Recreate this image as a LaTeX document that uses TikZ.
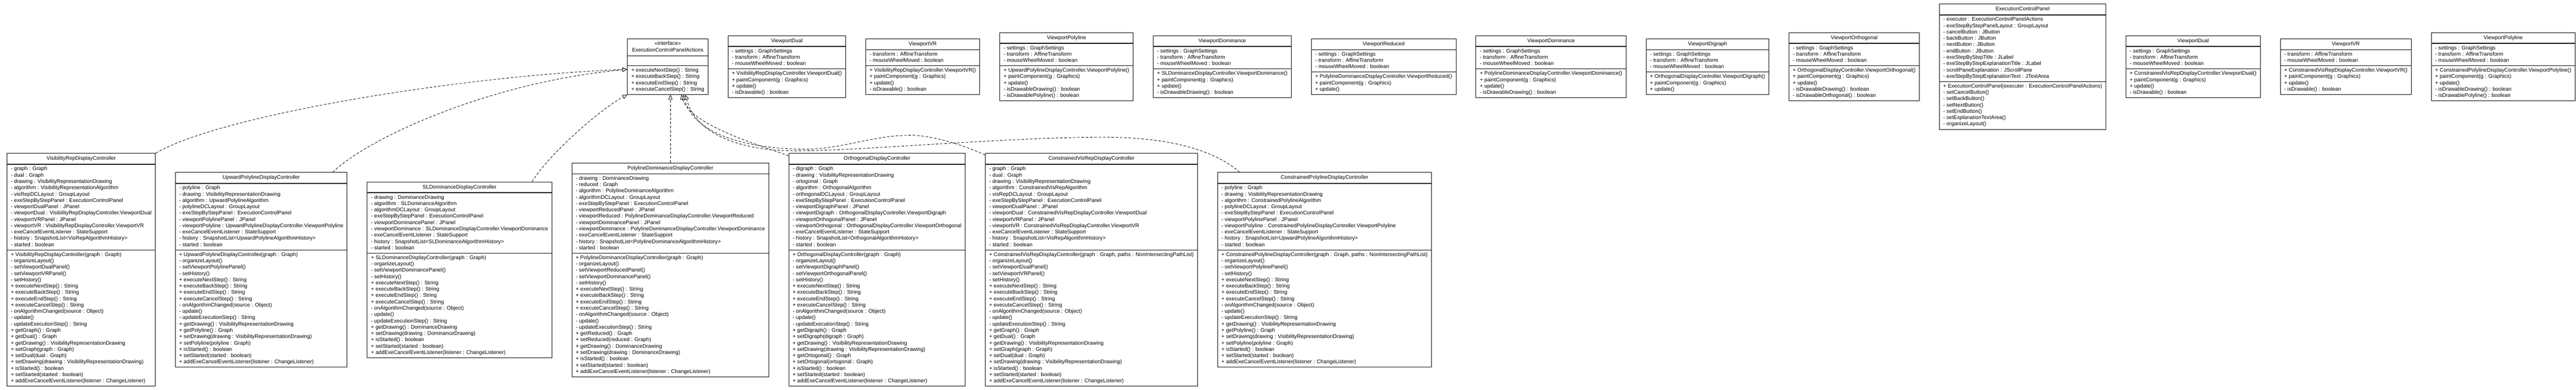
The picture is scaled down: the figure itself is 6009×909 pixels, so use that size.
\documentclass[tikz,border=0pt]{standalone}
\usepackage{fontspec}
\newfontfamily\umlf{Liberation Sans}
\usetikzlibrary{shapes.multipart,arrows.meta,calc}
\newcommand\ct[1]{\rule[-5.675pt]{0pt}{17.25pt}#1}
\tikzset{
  cls/.style={rectangle split, rectangle split parts=3, draw=black, line width=1.1pt,
    fill=white, align=left, rectangle split part align={center,left,left},
    inner xsep=9pt, inner ysep=3.5pt, anchor=west,
    font=\umlf\fontsize{12.38}{14.75}\selectfont},
  impl/.style={line width=1pt, dash pattern=on 6pt off 4pt,
    -{Triangle[length=11pt,width=10pt,fill=white,line width=1pt]}},
  tsep/.style={line width=2pt}
}
\begin{document}
\begin{tikzpicture}[x=1pt,y=-1pt]
\useasboundingbox (0,0) rectangle (6009,909);

% ---------------- bottom row ----------------
\node[cls] (vis) at (15.7,629.5) {\ct{VisibilityRepDisplayController}
\nodepart{two}
\strut- graph : Graph\\
\strut- dual : Graph\\
\strut- drawing : VisibilityRepresentationDrawing\\
\strut- algorithm : VisibilityRepresentationAlgorithm\\
\strut- visRepDCLayout : GroupLayout\\
\strut- exeStepByStepPanel : ExecutionControlPanel\\
\strut- viewportDualPanel : JPanel\\
\strut- viewportDual : VisibilityRepDisplayController.ViewportDual\\
\strut- viewportVRPanel : JPanel\\
\strut- viewportVR : VisibilityRepDisplayController.ViewportVR\\
\strut- exeCancelEventListener : StateSupport\\
\strut- history : SnapshotList<VisRepAlgorithmHistory>\\
\strut- started : boolean
\nodepart{three}
\strut+ VisibilityRepDisplayController(graph : Graph)\\
\strut- organizeLayout()\\
\strut- setViewportDualPanel()\\
\strut- setViewportVRPanel()\\
\strut- setHistory()\\
\strut+ executeNextStep() : String\\
\strut+ executeBackStep() : String\\
\strut+ executeEndStep() : String\\
\strut+ executeCancelStep() : String\\
\strut- onAlgorithmChanged(source : Object)\\
\strut- update()\\
\strut- updateExecutionStep() : String\\
\strut+ getGraph() : Graph\\
\strut+ getDual() : Graph\\
\strut+ getDrawing() : VisibilityRepresentationDrawing\\
\strut+ setGraph(graph : Graph)\\
\strut+ setDual(dual : Graph)\\
\strut+ setDrawing(drawing : VisibilityRepresentationDrawing)\\
\strut+ isStarted() : boolean\\
\strut+ setStarted(started : boolean)\\
\strut+ addExeCancelEventListener(listener : ChangeListener)};

\node[cls] (upw) at ($(vis.east)+(45.5,0)$) {\ct{UpwardPolylineDisplayController}
\nodepart{two}
\strut- polyline : Graph\\
\strut- drawing : VisibilityRepresentationDrawing\\
\strut- algorithm : UpwardPolylineAlgorithm\\
\strut- polylineDCLayout : GroupLayout\\
\strut- exeStepByStepPanel : ExecutionControlPanel\\
\strut- viewportPolylinePanel : JPanel\\
\strut- viewportPolyline : UpwardPolylineDisplayController.ViewportPolyline\\
\strut- exeCancelEventListener : StateSupport\\
\strut- history : SnapshotList<UpwardPolylineAlgorithmHistory>\\
\strut- started : boolean
\nodepart{three}
\strut+ UpwardPolylineDisplayController(graph : Graph)\\
\strut- organizeLayout()\\
\strut- setViewportPolylinePanel()\\
\strut- setHistory()\\
\strut+ executeNextStep() : String\\
\strut+ executeBackStep() : String\\
\strut+ executeEndStep() : String\\
\strut+ executeCancelStep() : String\\
\strut- onAlgorithmChanged(source : Object)\\
\strut- update()\\
\strut- updateExecutionStep() : String\\
\strut+ getDrawing() : VisibilityRepresentationDrawing\\
\strut+ getPolyline() : Graph\\
\strut+ setDrawing(drawing : VisibilityRepresentationDrawing)\\
\strut+ setPolyline(polyline : Graph)\\
\strut+ isStarted() : boolean\\
\strut+ setStarted(started : boolean)\\
\strut+ addExeCancelEventListener(listener : ChangeListener)};

\node[cls] (sld) at ($(upw.east)+(45.5,0)$) {\ct{SLDominanceDisplayController}
\nodepart{two}
\strut- drawing : DominanceDrawing\\
\strut- algorithm : SLDominanceAlgorithm\\
\strut- algorithmDCLayout : GroupLayout\\
\strut- exeStepByStepPanel : ExecutionControlPanel\\
\strut- viewportDominancePanel : JPanel\\
\strut- viewportDominance : SLDominanceDisplayController.ViewportDominance\\
\strut- exeCancelEventListener : StateSupport\\
\strut- history : SnapshotList<SLDominanceAlgorithmHistory>\\
\strut- started : boolean
\nodepart{three}
\strut+ SLDominanceDisplayController(graph : Graph)\\
\strut- organizeLayout()\\
\strut- setViewportDominancePanel()\\
\strut- setHistory()\\
\strut+ executeNextStep() : String\\
\strut+ executeBackStep() : String\\
\strut+ executeEndStep() : String\\
\strut+ executeCancelStep() : String\\
\strut- onAlgorithmChanged(source : Object)\\
\strut- update()\\
\strut- updateExecutionStep() : String\\
\strut+ getDrawing() : DominanceDrawing\\
\strut+ setDrawing(drawing : DominanceDrawing)\\
\strut+ isStarted() : boolean\\
\strut+ setStarted(started : boolean)\\
\strut+ addExeCancelEventListener(listener : ChangeListener)};

\node[cls] (pld) at ($(sld.east)+(45.5,0)$) {\ct{PolylineDominanceDisplayController}
\nodepart{two}
\strut- drawing : DominanceDrawing\\
\strut- reduced : Graph\\
\strut- algorithm : PolylineDominanceAlgorithm\\
\strut- algorithmDCLayout : GroupLayout\\
\strut- exeStepByStepPanel : ExecutionControlPanel\\
\strut- viewportReducedPanel : JPanel\\
\strut- viewportReduced : PolylineDominanceDisplayController.ViewportReduced\\
\strut- viewportDominancePanel : JPanel\\
\strut- viewportDominance : PolylineDominanceDisplayController.ViewportDominance\\
\strut- exeCancelEventListener : StateSupport\\
\strut- history : SnapshotList<PolylineDominanceAlgorithmHistory>\\
\strut- started : boolean
\nodepart{three}
\strut+ PolylineDominanceDisplayController(graph : Graph)\\
\strut- organizeLayout()\\
\strut- setViewportReducedPanel()\\
\strut- setViewportDominancePanel()\\
\strut- setHistory()\\
\strut+ executeNextStep() : String\\
\strut+ executeBackStep() : String\\
\strut+ executeEndStep() : String\\
\strut+ executeCancelStep() : String\\
\strut- onAlgorithmChanged(source : Object)\\
\strut- update()\\
\strut- updateExecutionStep() : String\\
\strut+ getReduced() : Graph\\
\strut+ setReduced(reduced : Graph)\\
\strut+ getDrawing() : DominanceDrawing\\
\strut+ setDrawing(drawing : DominanceDrawing)\\
\strut+ isStarted() : boolean\\
\strut+ setStarted(started : boolean)\\
\strut+ addExeCancelEventListener(listener : ChangeListener)};

\node[cls] (ort) at ($(pld.east)+(45.5,0)$) {\ct{OrthogonalDisplayController}
\nodepart{two}
\strut- digraph : Graph\\
\strut- drawing : VisibilityRepresentationDrawing\\
\strut- ortogonal : Graph\\
\strut- algorithm : OrthogonalAlgorithm\\
\strut- orthogonalDCLayout : GroupLayout\\
\strut- exeStepByStepPanel : ExecutionControlPanel\\
\strut- viewportDigraphPanel : JPanel\\
\strut- viewportDigraph : OrthogonalDisplayController.ViewportDigraph\\
\strut- viewportOrthogonalPanel : JPanel\\
\strut- viewportOrthogonal : OrthogonalDisplayController.ViewportOrthogonal\\
\strut- exeCancelEventListener : StateSupport\\
\strut- history : SnapshotList<OrthogonalAlgorithmHistory>\\
\strut- started : boolean
\nodepart{three}
\strut+ OrthogonalDisplayController(graph : Graph)\\
\strut- organizeLayout()\\
\strut- setViewportDigraphPanel()\\
\strut- setViewportOrthogonalPanel()\\
\strut- setHistory()\\
\strut+ executeNextStep() : String\\
\strut+ executeBackStep() : String\\
\strut+ executeEndStep() : String\\
\strut+ executeCancelStep() : String\\
\strut- onAlgorithmChanged(source : Object)\\
\strut- update()\\
\strut- updateExecutionStep() : String\\
\strut+ getDigraph() : Graph\\
\strut+ setDigraph(digraph : Graph)\\
\strut+ getDrawing() : VisibilityRepresentationDrawing\\
\strut+ setDrawing(drawing : VisibilityRepresentationDrawing)\\
\strut+ getOrtogonal() : Graph\\
\strut+ setOrtogonal(ortogonal : Graph)\\
\strut+ isStarted() : boolean\\
\strut+ setStarted(started : boolean)\\
\strut+ addExeCancelEventListener(listener : ChangeListener)};

\node[cls] (cvr) at ($(ort.east)+(45.5,0)$) {\ct{ConstrainedVisRepDisplayController}
\nodepart{two}
\strut- graph : Graph\\
\strut- dual : Graph\\
\strut- drawing : VisibilityRepresentationDrawing\\
\strut- algorithm : ConstrainedVisRepAlgorithm\\
\strut- visRepDCLayout : GroupLayout\\
\strut- exeStepByStepPanel : ExecutionControlPanel\\
\strut- viewportDualPanel : JPanel\\
\strut- viewportDual : ConstrainedVisRepDisplayController.ViewportDual\\
\strut- viewportVRPanel : JPanel\\
\strut- viewportVR : ConstrainedVisRepDisplayController.ViewportVR\\
\strut- exeCancelEventListener : StateSupport\\
\strut- history : SnapshotList<VisRepAlgorithmHistory>\\
\strut- started : boolean
\nodepart{three}
\strut+ ConstrainedVisRepDisplayController(graph : Graph, paths : NonIntersectingPathList)\\
\strut- organizeLayout()\\
\strut- setViewportDualPanel()\\
\strut- setViewportVRPanel()\\
\strut- setHistory()\\
\strut+ executeNextStep() : String\\
\strut+ executeBackStep() : String\\
\strut+ executeEndStep() : String\\
\strut+ executeCancelStep() : String\\
\strut- onAlgorithmChanged(source : Object)\\
\strut- update()\\
\strut- updateExecutionStep() : String\\
\strut+ getGraph() : Graph\\
\strut+ getDual() : Graph\\
\strut+ getDrawing() : VisibilityRepresentationDrawing\\
\strut+ setGraph(graph : Graph)\\
\strut+ setDual(dual : Graph)\\
\strut+ setDrawing(drawing : VisibilityRepresentationDrawing)\\
\strut+ isStarted() : boolean\\
\strut+ setStarted(started : boolean)\\
\strut+ addExeCancelEventListener(listener : ChangeListener)};

\node[cls] (cpl) at ($(cvr.east)+(45.5,0)$) {\ct{ConstrainedPolylineDisplayController}
\nodepart{two}
\strut- polyline : Graph\\
\strut- drawing : VisibilityRepresentationDrawing\\
\strut- algorithm : ConstrainedPolylineAlgorithm\\
\strut- polylineDCLayout : GroupLayout\\
\strut- exeStepByStepPanel : ExecutionControlPanel\\
\strut- viewportPolylinePanel : JPanel\\
\strut- viewportPolyline : ConstrainedPolylineDisplayController.ViewportPolyline\\
\strut- exeCancelEventListener : StateSupport\\
\strut- history : SnapshotList<UpwardPolylineAlgorithmHistory>\\
\strut- started : boolean
\nodepart{three}
\strut+ ConstrainedPolylineDisplayController(graph : Graph, paths : NonIntersectingPathList)\\
\strut- organizeLayout()\\
\strut- setViewportPolylinePanel()\\
\strut- setHistory()\\
\strut+ executeNextStep() : String\\
\strut+ executeBackStep() : String\\
\strut+ executeEndStep() : String\\
\strut+ executeCancelStep() : String\\
\strut- onAlgorithmChanged(source : Object)\\
\strut- update()\\
\strut- updateExecutionStep() : String\\
\strut+ getDrawing() : VisibilityRepresentationDrawing\\
\strut+ getPolyline() : Graph\\
\strut+ setDrawing(drawing : VisibilityRepresentationDrawing)\\
\strut+ setPolyline(polyline : Graph)\\
\strut+ isStarted() : boolean\\
\strut+ setStarted(started : boolean)\\
\strut+ addExeCancelEventListener(listener : ChangeListener)};

% ---------------- top row ----------------
\node[cls] (ifc) at (1463,155.5) {\begin{tabular}{@{}c@{}}\strut«interface»\\ \ct{ExecutionControlPanelActions}\end{tabular}
\nodepart{two}\strut
\nodepart{three}
\strut+ executeNextStep() : String\\
\strut+ executeBackStep() : String\\
\strut+ executeEndStep() : String\\
\strut+ executeCancelStep() : String};

\node[cls] (vd1) at ($(ifc.east)+(45.5,0)$) {\ct{ViewportDual}
\nodepart{two}
\strut- settings : GraphSettings\\
\strut- transform : AffineTransform\\
\strut- mouseWheelMoved : boolean
\nodepart{three}
\strut+ VisibilityRepDisplayController.ViewportDual()\\
\strut+ paintComponent(g : Graphics)\\
\strut+ update()\\
\strut- isDrawable() : boolean};

\node[cls] (vr1) at ($(vd1.east)+(45.5,0)$) {\ct{ViewportVR}
\nodepart{two}
\strut- transform : AffineTransform\\
\strut- mouseWheelMoved : boolean
\nodepart{three}
\strut+ VisibilityRepDisplayController.ViewportVR()\\
\strut+ paintComponent(g : Graphics)\\
\strut+ update()\\
\strut- isDrawable() : boolean};

\node[cls] (vp1) at ($(vr1.east)+(45.5,0)$) {\ct{ViewportPolyline}
\nodepart{two}
\strut- settings : GraphSettings\\
\strut- transform : AffineTransform\\
\strut- mouseWheelMoved : boolean
\nodepart{three}
\strut+ UpwardPolylineDisplayController.ViewportPolyline()\\
\strut+ paintComponent(g : Graphics)\\
\strut+ update()\\
\strut- isDrawableDrawing() : boolean\\
\strut- isDrawablePolyline() : boolean};

\node[cls] (vdm1) at ($(vp1.east)+(45.5,0)$) {\ct{ViewportDominance}
\nodepart{two}
\strut- settings : GraphSettings\\
\strut- transform : AffineTransform\\
\strut- mouseWheelMoved : boolean
\nodepart{three}
\strut+ SLDominanceDisplayController.ViewportDominance()\\
\strut+ paintComponent(g : Graphics)\\
\strut+ update()\\
\strut- isDrawableDrawing() : boolean};

\node[cls] (vred) at ($(vdm1.east)+(45.5,0)$) {\ct{ViewportReduced}
\nodepart{two}
\strut- settings : GraphSettings\\
\strut- transform : AffineTransform\\
\strut- mouseWheelMoved : boolean
\nodepart{three}
\strut+ PolylineDominanceDisplayController.ViewportReduced()\\
\strut+ paintComponent(g : Graphics)\\
\strut+ update()};

\node[cls] (vdm2) at ($(vred.east)+(45.5,0)$) {\ct{ViewportDominance}
\nodepart{two}
\strut- settings : GraphSettings\\
\strut- transform : AffineTransform\\
\strut- mouseWheelMoved : boolean
\nodepart{three}
\strut+ PolylineDominanceDisplayController.ViewportDominance()\\
\strut+ paintComponent(g : Graphics)\\
\strut+ update()\\
\strut- isDrawableDrawing() : boolean};

\node[cls] (vdig) at ($(vdm2.east)+(45.5,0)$) {\ct{ViewportDigraph}
\nodepart{two}
\strut- settings : GraphSettings\\
\strut- transform : AffineTransform\\
\strut- mouseWheelMoved : boolean
\nodepart{three}
\strut+ OrthogonalDisplayController.ViewportDigraph()\\
\strut+ paintComponent(g : Graphics)\\
\strut+ update()};

\node[cls] (vort) at ($(vdig.east)+(45.5,0)$) {\ct{ViewportOrthogonal}
\nodepart{two}
\strut- settings : GraphSettings\\
\strut- transform : AffineTransform\\
\strut- mouseWheelMoved : boolean
\nodepart{three}
\strut+ OrthogonalDisplayController.ViewportOrthogonal()\\
\strut+ paintComponent(g : Graphics)\\
\strut+ update()\\
\strut- isDrawableDrawing() : boolean\\
\strut- isDrawableOrthogonal() : boolean};

\node[cls] (ecp) at ($(vort.east)+(45.5,0)$) {\ct{ExecutionControlPanel}
\nodepart{two}
\strut- executer : ExecutionControlPanelActions\\
\strut- exeStepByStepPanelLayout : GroupLayout\\
\strut- cancelButton : JButton\\
\strut- backButton : JButton\\
\strut- nextButton : JButton\\
\strut- endButton : JButton\\
\strut- exeStepByStepTitle : JLabel\\
\strut- exeStepByStepExplanationTitle : JLabel\\
\strut- scrollPaneExplanation : JScrollPane\\
\strut- exeStepByStepExplanationText : JTextArea
\nodepart{three}
\strut+ ExecutionControlPanel(executer : ExecutionControlPanelActions)\\
\strut- setCancelButton()\\
\strut- setBackButton()\\
\strut- setNextButton()\\
\strut- setEndButton()\\
\strut- setExplanationTextArea()\\
\strut- organizeLayout()};

\node[cls] (vd2) at ($(ecp.east)+(45.5,0)$) {\ct{ViewportDual}
\nodepart{two}
\strut- settings : GraphSettings\\
\strut- transform : AffineTransform\\
\strut- mouseWheelMoved : boolean
\nodepart{three}
\strut+ ConstrainedVisRepDisplayController.ViewportDual()\\
\strut+ paintComponent(g : Graphics)\\
\strut+ update()\\
\strut- isDrawable() : boolean};

\node[cls] (vr2) at ($(vd2.east)+(45.5,0)$) {\ct{ViewportVR}
\nodepart{two}
\strut- transform : AffineTransform\\
\strut- mouseWheelMoved : boolean
\nodepart{three}
\strut+ ConstrainedVisRepDisplayController.ViewportVR()\\
\strut+ paintComponent(g : Graphics)\\
\strut+ update()\\
\strut- isDrawable() : boolean};

\node[cls] (vp2) at ($(vr2.east)+(45.5,0)$) {\ct{ViewportPolyline}
\nodepart{two}
\strut- settings : GraphSettings\\
\strut- transform : AffineTransform\\
\strut- mouseWheelMoved : boolean
\nodepart{three}
\strut+ ConstrainedPolylineDisplayController.ViewportPolyline()\\
\strut+ paintComponent(g : Graphics)\\
\strut+ update()\\
\strut- isDrawableDrawing() : boolean\\
\strut- isDrawablePolyline() : boolean};

% thicker title separators
\foreach \n in {vis,upw,sld,pld,ort,cvr,cpl,ifc,vd1,vr1,vp1,vdm1,vred,vdm2,vdig,vort,ecp,vd2,vr2,vp2}
  \draw[tsep] (\n.text split west) -- (\n.text split east);

% ---------------- realizations ----------------
\draw[impl] (vis.north east) .. controls (520,265) and (1100,175) .. ($(ifc.north west)+(0,72)$);
\draw[impl] ($(upw.north east)+(-34,0)$) .. controls (860,320) and (1150,190) .. ($(ifc.north west)+(0,72)$);
\draw[impl] ($(sld.north east)+(-47,0)$) .. controls (1280,360) and (1400,255) .. (ifc.south west);
\draw[impl] (pld.north) -- (pld.north |- ifc.south);
\draw[impl] ($(ort.north west)+(0,6)$) .. controls (1760,335) and (1610,290) .. ($(ifc.south west)+(126,0)$);
\draw[impl] ($(cvr.north west)+(0,4)$) .. controls (2240,335) and (2160,312) .. (2114,316)
   .. controls (2040,316) and (1960,348) .. (1880,348)
   .. controls (1760,348) and (1620,320) .. ($(ifc.south west)+(131,0)$);
\draw[impl] ($(cpl.north west)+(52,0)$) .. controls (2820,340) and (2700,320) .. (2573,320)
   .. controls (2350,320) and (2000,352) .. (1859,352)
   .. controls (1740,352) and (1625,320) .. ($(ifc.south west)+(136,0)$);
\end{tikzpicture}
\end{document}
